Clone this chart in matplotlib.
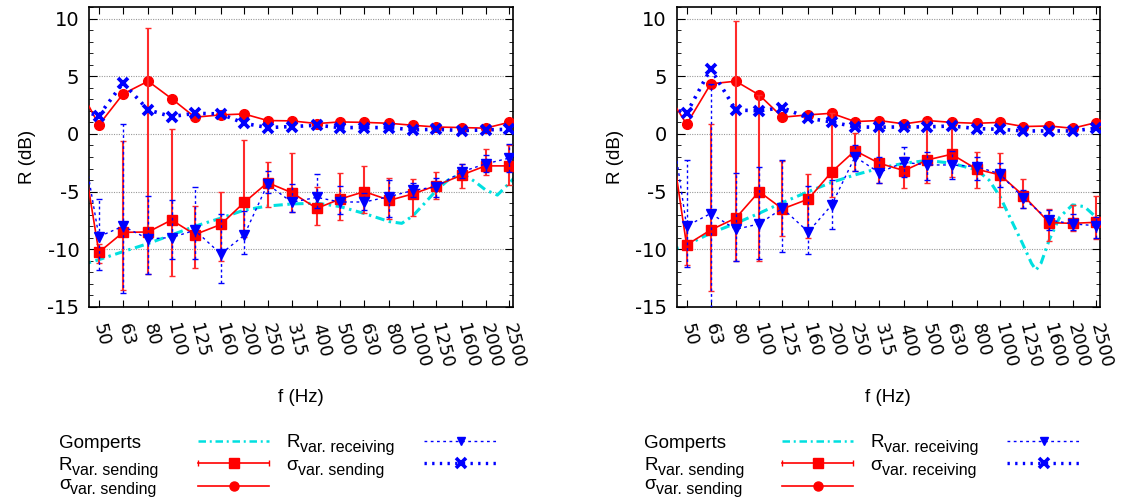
import numpy as np
import matplotlib.pyplot as plt
from matplotlib.lines import Line2D
from matplotlib.ticker import MultipleLocator, NullLocator

plt.rcParams['font.family'] = ['Liberation Sans', 'DejaVu Sans']
plt.rcParams['axes.unicode_minus'] = False

W, H = 1125, 504

# 1/3-octave bands (40 Hz lies just outside the axis, lines enter from it)
freqs = [40, 50, 63, 80, 100, 125, 160, 200, 250, 315, 400, 500, 630, 800,
         1000, 1250, 1600, 2000, 2500]
band_labels = ['50', '63', '80', '100', '125', '160', '200', '250', '315',
               '400', '500', '630', '800', '1000', '1250', '1600', '2000', '2500']

# Gomperts prediction curves
gL_freqs = [40, 50, 63, 80, 100, 125, 160, 200, 250, 315, 400, 500, 630, 800,
            900, 1000, 1120, 1250, 1400, 1600, 1800, 2000, 2240, 2500, 2800]
gL_vals = [-11.5, -10.9, -10.2, -9.5, -8.76, -8.0, -7.3, -6.6, -6.25, -6.07, -6.0,
           -6.3, -6.9, -7.6, -7.75, -7.1, -6.0, -4.9, -4.0, -3.45, -4.1, -4.85,
           -5.3, -4.3, -3.2]
gR_freqs = [40, 50, 63, 80, 100, 125, 160, 200, 250, 315, 400, 500, 630, 800,
            900, 1000, 1130, 1240, 1350, 1410, 1480, 1600, 1770, 2000, 2240, 2500, 2800]
gR_vals = [-10.3, -9.62, -8.6, -7.75, -6.88, -5.95, -5.0, -4.2, -3.55, -2.98, -2.54,
           -2.3, -2.54, -3.12, -4.0, -5.43, -7.75, -9.5, -11.2, -11.8, -11.2, -9.2,
           -7.2, -6.15, -6.3, -7.2, -8.0]

# left panel
L_sig_send = [4.6, 0.78, 3.47, 4.57, 3.06, 1.45, 1.65, 1.73, 1.16, 1.13, 0.9, 1.04,
              1.0, 0.92, 0.75, 0.6, 0.55, 0.5, 1.0]
L_sig_blue = [2.1, 1.59, 4.42, 2.08, 1.5, 1.79, 1.73, 0.92, 0.55, 0.64, 0.75, 0.55,
              0.55, 0.55, 0.35, 0.4, 0.29, 0.35, 0.4]
L_R_send = [2.3, -10.26, -8.53, -8.5, -7.46, -8.72, -7.85, -5.94, -4.22, -5.09, -6.45,
            -5.64, -5.0, -5.75, -5.2, -4.48, -3.55, -2.77, -2.77]
L_R_send_hi = [2.3, -9.5, -0.6, 9.16, 0.46, -6.27, -5.04, -0.53, -2.46, -1.62, -4.57,
               -3.35, -2.75, -3.84, -3.9, -3.27, -2.63, -1.3, -1.0]
L_R_send_lo = [2.3, -11.2, -13.5, -12.1, -12.3, -11.6, -11.0, -8.9, -6.3, -6.73, -7.9,
               -7.46, -6.88, -7.34, -7.1, -5.64, -4.65, -3.6, -4.45]
L_R_recv = [2.8, -8.9, -8.0, -9.1, -8.98, -8.35, -10.4, -8.78, -4.36, -5.92, -5.5,
            -5.9, -5.9, -5.43, -4.9, -4.57, -3.27, -2.6, -2.1]
L_R_recv_hi = [2.8, -5.6, 0.87, -5.4, -5.74, -4.58, -6.9, -6.7, -3.24, -4.36, -3.5,
               -4.5, -5.14, -4.0, -4.28, -3.84, -2.63, -1.82, -0.9]
L_R_recv_lo = [2.8, -11.8, -13.8, -12.1, -10.86, -10.86, -12.9, -10.4, -5.14, -6.76,
               -6.45, -6.9, -6.6, -7.2, -5.43, -5.43, -3.84, -3.27, -3.3]

# right panel
R_sig_send = [4.1, 0.84, 4.34, 4.57, 3.38, 1.45, 1.65, 1.79, 1.07, 1.16, 0.87, 1.16,
              1.0, 0.92, 1.0, 0.64, 0.69, 0.49, 0.98]
R_sig_blue = [2.5, 1.79, 5.64, 2.08, 2.0, 2.28, 1.36, 1.04, 0.61, 0.58, 0.61, 0.61,
              0.69, 0.46, 0.4, 0.26, 0.26, 0.26, 0.49]
R_R_send = [4.1, -9.62, -8.32, -7.3, -5.0, -6.5, -5.65, -3.3, -1.45, -2.54, -3.18,
            -2.25, -1.76, -3.06, -3.55, -5.34, -7.69, -7.75, -7.66]
R_R_send_hi = [4.1, -7.6, 0.87, 9.83, 3.4, -2.34, -3.48, 1.79, 0.05, 0.64, -1.97, 1.2,
               0.64, -1.53, -1.68, -3.93, -6.53, -6.16, -5.38]
R_R_send_lo = [4.1, -11.4, -13.6, -11.0, -11.0, -8.84, -9.0, -5.5, -3.22, -4.22, -4.65,
               -4.22, -3.7, -4.65, -6.3, -6.45, -9.25, -8.38, -9.13]
R_R_recv = [5.7, -7.98, -6.9, -8.27, -7.8, -6.45, -8.49, -6.17, -1.98, -3.35, -2.46,
            -2.69, -2.69, -2.83, -3.47, -5.58, -7.46, -7.8, -7.95]
R_R_recv_hi = [5.7, -2.3, 4.3, -3.35, -2.9, -2.25, -4.5, -4.0, -0.95, -1.97, -1.1,
               -1.53, -1.5, -1.97, -2.54, -4.86, -6.6, -6.9, -7.17]
R_R_recv_lo = [5.7, -11.5, -15.5, -11.0, -10.8, -10.2, -10.4, -8.28, -3.2, -4.22, -3.7,
               -3.99, -3.9, -3.99, -4.57, -6.45, -8.3, -8.3, -9.05]

RED = '#ff0000'
RED_ERR = '#ff2a2a'
BLUE = '#0000ff'
CYAN = '#00e0e0'
FS = 13.5
TICK_FONT = 'DejaVu Sans'


def asym_err(y, lo, hi):
    y = np.array(y)
    return [y - np.array(lo), np.array(hi) - y]


def draw_panel(ax, g_freqs, g_vals, sig_send, sig_blue, r_send, r_send_lo, r_send_hi,
               r_recv, r_recv_lo, r_recv_hi):
    ax.plot(g_freqs, g_vals, color=CYAN, lw=2.2, dashes=(3, 1.5, 0.8, 1.5), zorder=2)
    ax.plot(freqs, sig_send, color=RED, lw=1.2, marker='o', ms=7, zorder=3)
    ax.errorbar(freqs, r_send, yerr=asym_err(r_send, r_send_lo, r_send_hi),
                color=RED, lw=1.2, marker='s', ms=7.5, ecolor=RED_ERR,
                elinewidth=1.5, capsize=2, capthick=1, zorder=4)
    eb = ax.errorbar(freqs, r_recv, yerr=asym_err(r_recv, r_recv_lo, r_recv_hi),
                     color=BLUE, lw=1.0, ls=(0, (2, 2.5)), marker='v', ms=6.5,
                     ecolor=BLUE, elinewidth=1.0, capsize=2, capthick=1, zorder=5)
    eb[2][0].set_linestyle((0, (2, 2)))
    ax.plot(freqs, sig_blue, color=BLUE, lw=2.6, ls=(0, (0.7, 1.6)),
            marker='x', ms=7, mew=2.7, zorder=6)

    ax.set_xscale('log')
    ax.set_xlim(45.5, 2600)
    ax.set_ylim(-15, 11)
    ax.set_xticks(freqs[1:])
    ax.set_xticklabels(band_labels, rotation=-76, rotation_mode='anchor',
                       ha='left', va='center', fontsize=13, family=TICK_FONT)
    ax.xaxis.set_minor_locator(NullLocator())
    ax.set_yticks([-15, -10, -5, 0, 5, 10])
    ax.set_yticklabels(['-15', '-10', '-5', '0', '5', '10'], fontsize=14,
                       family=TICK_FONT)
    ax.yaxis.set_minor_locator(MultipleLocator(1))
    ax.tick_params(axis='x', which='major', direction='in', top=True, length=5, pad=12)
    ax.tick_params(axis='y', which='major', direction='in', right=True, length=6, pad=7)
    ax.tick_params(axis='y', which='minor', direction='in', right=True, length=3)
    ax.yaxis.grid(True, which='major', ls=(0, (1, 1.2)), color='#999999', lw=0.8)
    for sp in ax.spines.values():
        sp.set_linewidth(1.2)

    ax.set_ylabel('R (dB)', fontsize=FS)
    ax.yaxis.set_label_coords(-0.145, 0.5)
    ax.yaxis.label.set_va('center')
    ax.set_xlabel('f (Hz)', fontsize=FS)
    ax.xaxis.set_label_coords(0.5, -0.303)
    ax.xaxis.label.set_va('center')


def fx(x):
    return x / W


def fy(y):
    return 1 - y / H


def legend_label(fig, x, y, main, sub=None):
    t = fig.text(fx(x), fy(y), main, fontsize=FS, va='baseline', ha='left')
    if sub:
        bb = t.get_window_extent(renderer=fig.canvas.get_renderer())
        fig.text(fx(bb.x1), fy(y + 5), sub, fontsize=11.5, va='baseline', ha='left')


def legend_sample(fig, x0, x1, y, color, lw, ls, marker=None, ms=6, mew=1, caps=False):
    fig.add_artist(Line2D([fx(x0), fx(x1)], [fy(y), fy(y)], transform=fig.transFigure,
                          color=color, lw=lw, ls=ls))
    if caps:
        fig.add_artist(Line2D([fx(x0), fx(x1)], [fy(y), fy(y)], transform=fig.transFigure,
                              color=color, ls='none', marker='|', ms=5, mew=1))
    if marker:
        fig.add_artist(Line2D([fx((x0 + x1) / 2)], [fy(y)], transform=fig.transFigure,
                              color=color, ls='none', marker=marker, ms=ms, mew=mew))


def draw_legend(fig, x_text1, x_s1, x_text2, x_s2, blue_sigma_sub):
    sw = 71
    legend_label(fig, x_text1, 448, 'Gomperts')
    legend_sample(fig, x_s1, x_s1 + sw, 441, CYAN, 1.8, (0, (3, 1.5, 0.8, 1.5)))
    legend_label(fig, x_text1, 469.5, 'R', 'var. sending')
    legend_sample(fig, x_s1, x_s1 + sw, 463, RED, 1.2, '-', marker='s', ms=7, caps=True)
    legend_label(fig, x_text1, 489, 'σ', 'var. sending')
    legend_sample(fig, x_s1, x_s1 + sw, 486, RED, 1.2, '-', marker='o', ms=6.5)
    legend_label(fig, x_text2, 447, 'R', 'var. receiving')
    legend_sample(fig, x_s2, x_s2 + 73, 441, BLUE, 1.0, (0, (2, 2.5)), marker='v', ms=6)
    legend_label(fig, x_text2, 470, 'σ', blue_sigma_sub)
    legend_sample(fig, x_s2, x_s2 + 73, 463, BLUE, 2.4, (0, (0.7, 1.6)),
                  marker='x', ms=6.5, mew=2.6)


def main():
    fig = plt.figure(figsize=(W / 100, H / 100), dpi=100)
    ax_l = fig.add_axes([fx(89), fy(307), 424 / W, 300 / H])
    ax_r = fig.add_axes([fx(676.7), fy(307), 423.3 / W, 300 / H])

    draw_panel(ax_l, gL_freqs, gL_vals, L_sig_send, L_sig_blue, L_R_send, L_R_send_lo,
               L_R_send_hi, L_R_recv, L_R_recv_lo, L_R_recv_hi)
    draw_panel(ax_r, gR_freqs, gR_vals, R_sig_send, R_sig_blue, R_R_send, R_R_send_lo,
               R_R_send_hi, R_R_recv, R_R_recv_lo, R_R_recv_hi)

    draw_legend(fig, 59, 198, 286, 424, 'var. sending')
    draw_legend(fig, 644, 782, 870, 1007, 'var. receiving')

    fig.savefig('out.png', dpi=100)


if __name__ == "__main__":
    main()
